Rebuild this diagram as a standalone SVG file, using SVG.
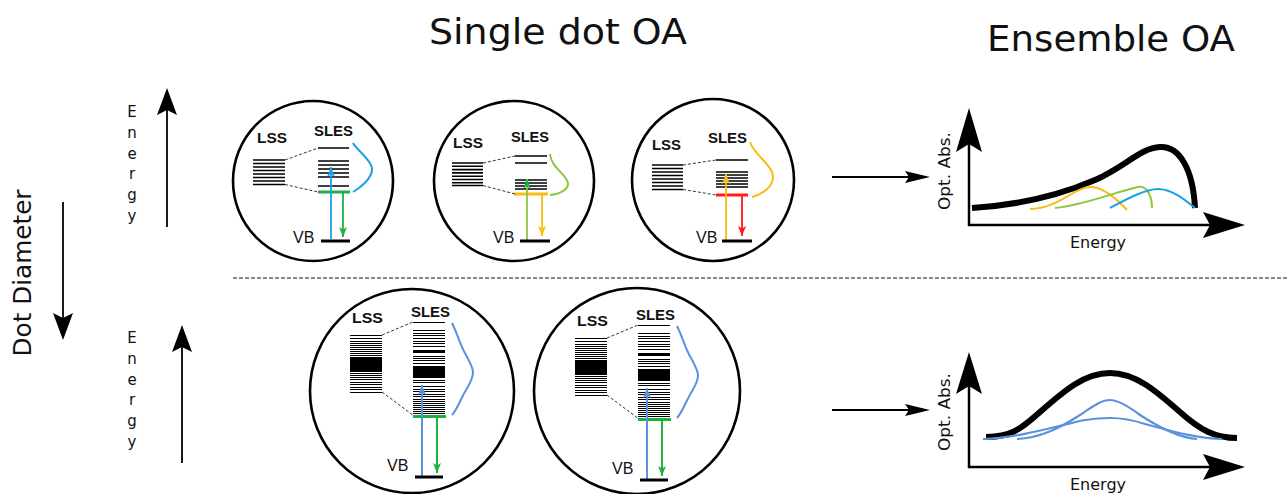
<svg xmlns="http://www.w3.org/2000/svg" xmlns:xlink="http://www.w3.org/1999/xlink" width="1287" height="494" viewBox="0 0 1287 494">
  <style>
    .title { font-family: "DejaVu Sans", Verdana, sans-serif; font-size: 36px; fill: #111; }
    .lbl { font-family: "DejaVu Sans", Verdana, sans-serif; font-size: 16px; fill: #111; }
    .vert { font-family: "DejaVu Sans", Verdana, sans-serif; font-size: 15px; fill: #111; text-anchor: middle; }
    .head { font-family: "Liberation Sans", Arial, sans-serif; font-size: 15px; font-weight: bold; fill: #111; }
    .vb { font-family: "Liberation Sans", Arial, sans-serif; font-size: 16px; fill: #111; }
    .dot { fill: #fff; stroke: #000; stroke-width: 2.6; }
    .lev { fill: none; stroke: #000; stroke-width: 1.6; }
    .levd { fill: none; stroke: #000; stroke-width: 1; shape-rendering: crispEdges; }
    .dash { fill: none; stroke: #333; stroke-width: 1; stroke-dasharray: 3 2; }
    .vbl { stroke: #000; stroke-width: 3; }
    .ax { stroke: #000; stroke-width: 2.5; fill: none; }
    .arr { stroke: #000; stroke-width: 1.8; fill: none; }
    .tip { fill: #000; stroke: none; }
  </style>
  <defs>
    <marker id="m-blue" viewBox="0 0 10 8" refX="10" refY="4" markerWidth="10" markerHeight="8" orient="auto" markerUnits="userSpaceOnUse"><path d="M0,0 L10,4 L0,8 L2.5,4 Z" fill="#1ba1e2"/></marker>
    <marker id="m-green" viewBox="0 0 10 8" refX="10" refY="4" markerWidth="10" markerHeight="8" orient="auto" markerUnits="userSpaceOnUse"><path d="M0,0 L10,4 L0,8 L2.5,4 Z" fill="#1db240"/></marker>
    <marker id="m-orange" viewBox="0 0 10 8" refX="10" refY="4" markerWidth="10" markerHeight="8" orient="auto" markerUnits="userSpaceOnUse"><path d="M0,0 L10,4 L0,8 L2.5,4 Z" fill="#fbbd12"/></marker>
    <marker id="m-red" viewBox="0 0 10 8" refX="10" refY="4" markerWidth="10" markerHeight="8" orient="auto" markerUnits="userSpaceOnUse"><path d="M0,0 L10,4 L0,8 L2.5,4 Z" fill="#ff1a1a"/></marker>
    <marker id="m-cblue" viewBox="0 0 10 8" refX="10" refY="4" markerWidth="10" markerHeight="8" orient="auto" markerUnits="userSpaceOnUse"><path d="M0,0 L10,4 L0,8 L2.5,4 Z" fill="#5b92dd"/></marker>

    <!-- level scheme of a large dot: dense LSS and SLES ladders -->
    <g id="large-dot-levels">
      <text class="head" x="352" y="323" textLength="31" lengthAdjust="spacingAndGlyphs">LSS</text>
      <text class="head" x="411" y="317" textLength="39" lengthAdjust="spacingAndGlyphs">SLES</text>
      <path class="levd" d="M350,335.5h32M350,338.5h32M350,341.5h32M350,343.5h32M350,345.5h32M350,347.5h32M350,349.5h32M350,351.5h32M350,353.5h32M350,355.5h32M350,373.5h32M350,375.5h32M350,377.5h32M350,379.5h32M350,382.5h32M350,384.5h32M350,387.5h32M350,389.5h32M350,392.5h32"/>
      <rect x="350" y="357" width="32" height="15" fill="#000" shape-rendering="crispEdges"/>
      <path class="levd" d="M413,322.5h32M413,330.5h32M413,333.5h32M413,335.5h32M413,338.5h32M413,341.5h32M413,343.5h32M413,346.5h32M413,356.5h32M413,358.5h32M413,360.5h32M413,363.5h32M413,380.5h32M413,382.5h32M413,386.5h32M413,389.5h32M413,391.5h32M413,394.5h32M413,396.5h32M413,399.5h32M413,401.5h32M413,403.5h32M413,405.5h32M413,407.5h32M413,409.5h32M413,411.5h32M413,413.5h32"/>
      <rect x="413" y="350" width="32" height="3" fill="#000" shape-rendering="crispEdges"/>
      <rect x="413" y="366" width="32" height="12" fill="#000" shape-rendering="crispEdges"/>
      <line x1="413" y1="416.5" x2="446" y2="416.5" stroke="#1db240" stroke-width="3"/>
      <path class="dash" d="M382,335L413,322M382,392L414,416"/>
      <path d="M452,323C458,335 460,345 466,355C471,364 473,368 473,372C473,377 471,382 466,390C460,400 458,408 452,415" fill="none" stroke="#5b92dd" stroke-width="2"/>
      <line x1="422" y1="477" x2="422" y2="385" stroke="#5b92dd" stroke-width="2" marker-end="url(#m-cblue)"/>
      <line x1="437" y1="417" x2="437" y2="473" stroke="#1db240" stroke-width="2" marker-end="url(#m-green)"/>
      <text class="vb" x="387" y="471">VB</text>
      <line class="vbl" x1="415" y1="477" x2="443" y2="477"/>
    </g>
  </defs>

  <rect width="1287" height="494" fill="#fff"/>

  <!-- headings -->
  <g id="titles">
    <text class="title" x="429" y="44" textLength="258" lengthAdjust="spacingAndGlyphs">Single dot OA</text>
    <text class="title" x="987" y="51" textLength="248" lengthAdjust="spacingAndGlyphs">Ensemble OA</text>
  </g>

  <!-- left-hand scales -->
  <g id="dot-diameter">
    <text class="lbl" style="font-size:24px" text-anchor="middle" transform="translate(31,273) rotate(-90)" textLength="167" lengthAdjust="spacingAndGlyphs">Dot Diameter</text>
    <line class="arr" x1="63" y1="202" x2="63" y2="320"/>
    <polygon class="tip" points="63,340 73,313 63,318 53,313"/>
  </g>
  <g id="energy-upper">
    <text class="vert" x="132" y="117">E</text>
    <text class="vert" x="132" y="138">n</text>
    <text class="vert" x="132" y="159">e</text>
    <text class="vert" x="132" y="179">r</text>
    <text class="vert" x="132" y="200">g</text>
    <text class="vert" x="132" y="221">y</text>
    <line class="arr" x1="167" y1="227" x2="167" y2="108"/>
    <polygon class="tip" points="167,88 177,115 167,110 157,115"/>
  </g>
  <g id="energy-lower">
    <text class="vert" x="132" y="343">E</text>
    <text class="vert" x="132" y="364">n</text>
    <text class="vert" x="132" y="385">e</text>
    <text class="vert" x="132" y="405">r</text>
    <text class="vert" x="132" y="426">g</text>
    <text class="vert" x="132" y="447">y</text>
    <line class="arr" x1="182" y1="463" x2="182" y2="345"/>
    <polygon class="tip" points="182,325 192,352 182,347 172,352"/>
  </g>

  <!-- separator between small and large dots -->
  <line x1="233" y1="278" x2="1287" y2="278" stroke="#111" stroke-width="1" stroke-dasharray="4 2"/>

  <!-- small dot, largest confinement -->
  <g id="dot-small-1">
    <circle class="dot" cx="313" cy="181" r="80"/>
    <text class="head" x="257" y="143" textLength="30" lengthAdjust="spacingAndGlyphs">LSS</text>
    <text class="head" x="314" y="136" textLength="39" lengthAdjust="spacingAndGlyphs">SLES</text>
    <path class="lev" d="M253,160h32M253,163.5h32M253,167h32M253,170.5h32M253,174h32M253,177.5h32M253,181h32M253,184.5h32"/>
    <path class="lev" d="M318,148h31M318,161h31M318,165h31M318,169h31M318,173h31M318,177h31M318,186h31"/>
    <line x1="318" y1="192" x2="350" y2="192" stroke="#1db240" stroke-width="3"/>
    <path class="dash" d="M285,160L318,148M285,184.5L318,192"/>
    <path d="M353,143C357,150 371,160 372,168C373,178 360,188 353,192" fill="none" stroke="#1ba1e2" stroke-width="2"/>
    <line x1="331" y1="239" x2="331" y2="167" stroke="#1ba1e2" stroke-width="1.8" marker-end="url(#m-blue)"/>
    <line x1="343" y1="193" x2="343" y2="237" stroke="#1db240" stroke-width="1.8" marker-end="url(#m-green)"/>
    <text class="vb" x="293" y="243">VB</text>
    <line class="vbl" x1="321" y1="241" x2="350" y2="241"/>
  </g>

  <g id="dot-small-2">
    <circle class="dot" cx="514" cy="181" r="80"/>
    <text class="head" x="453" y="148" textLength="30" lengthAdjust="spacingAndGlyphs">LSS</text>
    <text class="head" x="511" y="142" textLength="38" lengthAdjust="spacingAndGlyphs">SLES</text>
    <path class="lev" d="M452,163h31M452,166.3h31M452,169.6h31M452,172.9h31M452,176.2h31M452,179.5h31M452,182.8h31M452,185.5h31"/>
    <path class="lev" d="M515,156h32M515,163h32M515,180h32M515,183h32M515,186h32M515,189h32"/>
    <line x1="514" y1="194" x2="548" y2="194" stroke="#fbbd12" stroke-width="3"/>
    <path class="dash" d="M483,163L515,156M483,185.5L515,194"/>
    <path d="M550,154C551,168 568,175 568,184C568,191 556,195 550,195" fill="none" stroke="#8dc63f" stroke-width="2"/>
    <line x1="527" y1="241" x2="527" y2="179" stroke="#8dc63f" stroke-width="1.8" marker-end="url(#m-green)"/>
    <line x1="542" y1="195" x2="542" y2="236" stroke="#fbbd12" stroke-width="1.8" marker-end="url(#m-orange)"/>
    <text class="vb" x="493" y="243">VB</text>
    <line class="vbl" x1="520" y1="241" x2="550" y2="241"/>
  </g>

  <g id="dot-small-3">
    <circle class="dot" cx="713" cy="180" r="81"/>
    <text class="head" x="652" y="150" textLength="29" lengthAdjust="spacingAndGlyphs">LSS</text>
    <text class="head" x="708" y="143" textLength="39" lengthAdjust="spacingAndGlyphs">SLES</text>
    <path class="lev" d="M652,165h31M652,168.5h31M652,172h31M652,175.5h31M652,179h31M652,182.5h31M652,186h31M652,189.5h31"/>
    <path class="lev" d="M716,160h32M716,172h32M716,175h32M716,178h32M716,181h32M716,184h32M716,187h32"/>
    <line x1="716" y1="195" x2="748" y2="195" stroke="#ff1a1a" stroke-width="3"/>
    <path class="dash" d="M683,165L716,160M683,189.5L716,195"/>
    <path d="M750,142C754,155 773,165 773,177C773,188 760,195 752,197" fill="none" stroke="#fbbd12" stroke-width="2"/>
    <line x1="726" y1="241" x2="726" y2="174" stroke="#fbbd12" stroke-width="1.8" marker-end="url(#m-orange)"/>
    <line x1="742" y1="196" x2="742" y2="236" stroke="#ff1a1a" stroke-width="1.8" marker-end="url(#m-red)"/>
    <text class="vb" x="696" y="243">VB</text>
    <line class="vbl" x1="722" y1="241" x2="752" y2="241"/>
  </g>

  <!-- large dots -->
  <g id="dot-large-1">
    <circle class="dot" cx="412" cy="391" r="102"/>
    <use xlink:href="#large-dot-levels"/>
  </g>
  <g id="dot-large-2">
    <circle class="dot" cx="637" cy="391" r="103"/>
    <use xlink:href="#large-dot-levels" transform="translate(225,3)"/>
  </g>

  <!-- ensemble absorption spectra -->
  <g id="ensemble-broad">
    <line class="ax" x1="969" y1="226" x2="969" y2="140"/>
    <polygon class="tip" points="969,108 982,152 969,144 956,152"/>
    <line class="ax" x1="968" y1="225" x2="1215" y2="225"/>
    <polygon class="tip" points="1245,225 1203,212 1210,225 1203,238"/>
    <path d="M972,208C1020,205 1060,195 1095,180C1125,167 1140,148 1160,147C1180,146 1193,170 1195,208" fill="none" stroke="#000" stroke-width="6"/>
    <path d="M1030,209C1060,208 1075,186 1092,187C1105,188 1120,202 1127,210" fill="none" stroke="#fbbd12" stroke-width="2"/>
    <path d="M1055,208C1085,205 1115,192 1138,187C1148,185 1152,198 1152,208" fill="none" stroke="#8dc63f" stroke-width="2"/>
    <path d="M1110,208C1125,200 1145,189 1158,189C1172,189 1185,200 1195,208" fill="none" stroke="#1ba1e2" stroke-width="2"/>
    <text class="lbl" text-anchor="middle" transform="translate(950,171) rotate(-90)" textLength="78" lengthAdjust="spacingAndGlyphs">Opt. Abs.</text>
    <text class="lbl" x="1098" y="248" text-anchor="middle">Energy</text>
  </g>

  <g id="ensemble-narrow">
    <line class="ax" x1="969" y1="468" x2="969" y2="382"/>
    <polygon class="tip" points="969,352 982,394 969,386 956,394"/>
    <line class="ax" x1="968" y1="467" x2="1215" y2="467"/>
    <polygon class="tip" points="1245,467 1203,454 1210,467 1203,480"/>
    <path d="M986,437C1010,437 1020,430 1040,412C1065,390 1085,373 1110,373C1135,373 1155,390 1180,412C1200,430 1215,438 1237,438" fill="none" stroke="#000" stroke-width="6"/>
    <path d="M1017,439C1040,438 1060,428 1080,415C1095,405 1102,400 1110,400C1118,400 1128,406 1140,415C1160,428 1180,438 1197,439" fill="none" stroke="#5b92dd" stroke-width="2.2"/>
    <path d="M983,439C1020,438 1060,425 1085,420C1098,418 1105,418 1110,418C1118,418 1130,419 1145,424C1175,432 1200,439 1222,439" fill="none" stroke="#5b92dd" stroke-width="2.2"/>
    <text class="lbl" text-anchor="middle" transform="translate(950,412) rotate(-90)" textLength="78" lengthAdjust="spacingAndGlyphs">Opt. Abs.</text>
    <text class="lbl" x="1098" y="490" text-anchor="middle">Energy</text>
  </g>

  <!-- connectors from single dots to ensemble -->
  <g id="connectors">
    <line class="arr" x1="832" y1="177" x2="912" y2="177"/>
    <polygon class="tip" points="930,177 905,171 909,177 905,183"/>
    <line class="arr" x1="832" y1="410" x2="912" y2="410"/>
    <polygon class="tip" points="930,410 905,404 909,410 905,416"/>
  </g>
</svg>
